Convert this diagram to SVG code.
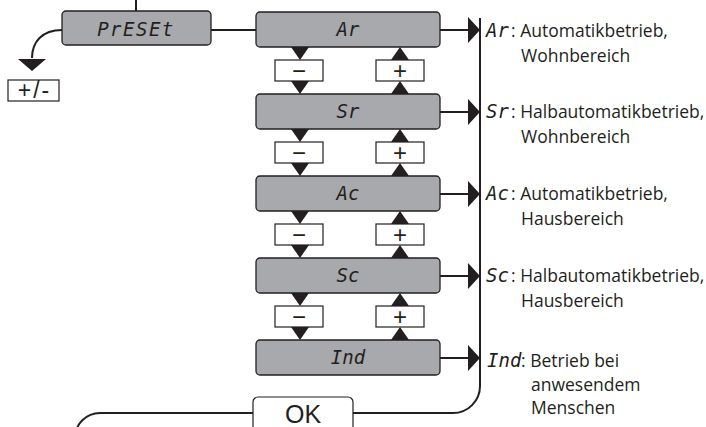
<svg xmlns="http://www.w3.org/2000/svg" xmlns:xlink="http://www.w3.org/1999/xlink" width="706" height="427" viewBox="0 0 706 427">
<style>
.disp{fill:#a7a9ac;stroke:#231f20;stroke-width:1.3}
.key{fill:#fff;stroke:#231f20;stroke-width:1.2}
.ln{fill:none;stroke:#231f20;stroke-width:2}
.tri{fill:#231f20}
.lcd{font-family:"DejaVu Sans Mono",monospace;font-style:italic;font-size:19px;fill:#231f20;text-anchor:middle}
.lcds{font-family:"DejaVu Sans Mono",monospace;font-style:italic;font-size:19px;fill:#231f20}
.lbl{font-family:"Open Sans","Liberation Sans",sans-serif;font-size:17.5px;fill:#231f20}
.keyt{font-family:"Liberation Sans",Arial,sans-serif;font-size:24px;fill:#231f20;text-anchor:middle}
.pm{font-family:"Liberation Sans",Arial,sans-serif;font-size:23px;fill:#231f20;text-anchor:middle;letter-spacing:2px}
.okt{font-family:"Liberation Sans",Arial,sans-serif;font-size:25px;fill:#231f20;text-anchor:middle}
</style>
<defs>
<g id="arrowR"><path class="ln" d="M0,0H28"/><polygon class="tri" points="28,-13 40,0 28,13"/></g>
<g id="gap">
<polygon class="tri" points="291,0 309,0 300,13"/>
<polygon class="tri" points="291,34 309,34 300,47"/>
<polygon class="tri" points="400,0 391,13 409,13"/>
<polygon class="tri" points="400,34 391,47 409,47"/>
<rect class="key" x="275" y="13" width="48" height="21"/>
<rect class="key" x="376" y="13" width="48" height="21"/>
<text class="keyt" x="299" y="32">−</text>
<text class="keyt" x="400" y="32">+</text>
</g>
</defs>

<g id="connectors">
<path class="ln" d="M136,0V11"/>
<path class="ln" d="M211,30H256"/>
<path class="ln" d="M62,30C42,30 32,42 32,58"/>
<polygon class="tri" points="18,59 46,59 32,71"/>
<use xlink:href="#arrowR" transform="translate(440,30)"/>
<use xlink:href="#arrowR" transform="translate(440,112)"/>
<use xlink:href="#arrowR" transform="translate(440,194)"/>
<use xlink:href="#arrowR" transform="translate(440,276)"/>
<use xlink:href="#arrowR" transform="translate(440,358)"/>
<path class="ln" d="M480,18V386A27,27 0 0 1 453,413H353"/>
<path class="ln" d="M253,413H100A25,25 0 0 0 75,438"/>
</g>

<g id="preset">
<rect class="disp" x="62" y="11" width="149" height="34" rx="4"/>
<text class="lcd" x="136" y="36" letter-spacing="1.5">PrESEt</text>
</g>
<g id="plusminus">
<rect class="key" x="8" y="80" width="51" height="21"/>
<text class="pm" x="34.5" y="98">+/-</text>
</g>

<g id="ar">
<rect class="disp" x="256" y="12" width="184" height="35" rx="4"/>
<text class="lcd" x="348" y="36">Ar</text>
</g>
<use id="gap1" xlink:href="#gap" transform="translate(0,47)"/>
<g id="sr">
<rect class="disp" x="256" y="94" width="184" height="35" rx="4"/>
<text class="lcd" x="348" y="118">Sr</text>
</g>
<use id="gap2" xlink:href="#gap" transform="translate(0,129)"/>
<g id="ac">
<rect class="disp" x="256" y="176" width="184" height="35" rx="4"/>
<text class="lcd" x="348" y="200">Ac</text>
</g>
<use id="gap3" xlink:href="#gap" transform="translate(0,211)"/>
<g id="sc">
<rect class="disp" x="256" y="258" width="184" height="35" rx="4"/>
<text class="lcd" x="348" y="282">Sc</text>
</g>
<use id="gap4" xlink:href="#gap" transform="translate(0,293)"/>
<g id="ind">
<rect class="disp" x="256" y="340" width="184" height="35" rx="4"/>
<text class="lcd" x="348" y="364">Ind</text>
</g>

<g id="ok">
<rect class="key" x="253" y="397" width="100" height="40" rx="5"/>
<text class="okt" x="303" y="423">OK</text>
</g>

<g id="label-ar">
<text class="lcds" x="486" y="37">Ar</text>
<text class="lbl" x="511" y="37">: Automatikbetrieb,</text>
<text class="lbl" x="521" y="62">Wohnbereich</text>
</g>
<g id="label-sr">
<text class="lcds" x="486" y="118">Sr</text>
<text class="lbl" x="511" y="118">: Halbautomatikbetrieb,</text>
<text class="lbl" x="521" y="143">Wohnbereich</text>
</g>
<g id="label-ac">
<text class="lcds" x="486" y="200">Ac</text>
<text class="lbl" x="511" y="200">: Automatikbetrieb,</text>
<text class="lbl" x="521" y="225">Hausbereich</text>
</g>
<g id="label-sc">
<text class="lcds" x="486" y="282">Sc</text>
<text class="lbl" x="511" y="282">: Halbautomatikbetrieb,</text>
<text class="lbl" x="521" y="307">Hausbereich</text>
</g>
<g id="label-ind">
<text class="lcds" x="487" y="367">Ind</text>
<text class="lbl" x="521" y="367">: Betrieb bei</text>
<text class="lbl" x="531" y="391">anwesendem</text>
<text class="lbl" x="531" y="414">Menschen</text>
</g>
</svg>
